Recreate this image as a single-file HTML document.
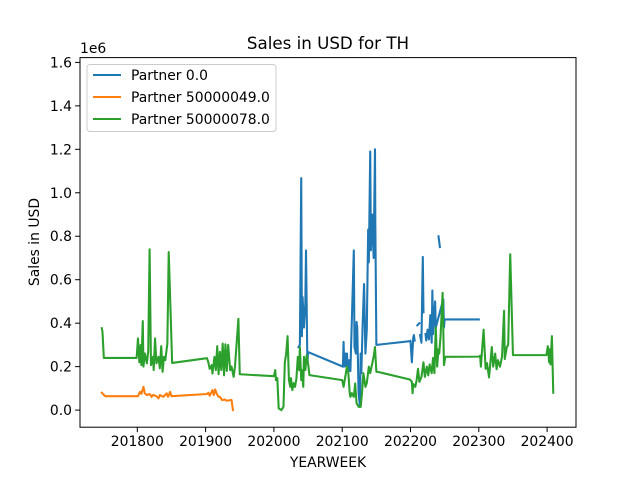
<!DOCTYPE html>
<html><head><meta charset="utf-8"><style>
body{margin:0;background:#fff}
svg{display:block;font-family:"DejaVu Sans","Liberation Sans",sans-serif}
</style></head><body>
<svg id="chart" width="640" height="480" xmlns="http://www.w3.org/2000/svg">
<rect width="640" height="480" fill="#fff"/>
<text x="328" y="49" font-size="16.7" text-anchor="middle">Sales in USD for TH</text>
<text x="80" y="53" font-size="13.9">1e6</text>
<text x="328" y="467" font-size="13.9" text-anchor="middle">YEARWEEK</text>
<text x="0" y="0" font-size="13.9" text-anchor="middle" transform="translate(39,242) rotate(-90)">Sales in USD</text>
<g id="plot"></g>
<rect x="80" y="57.6" width="496" height="369.6" fill="none" stroke="#000" stroke-width="1"/>
<g id="legend">
<rect x="87" y="64.5" width="189" height="67" rx="3" fill="#fff" fill-opacity="0.8" stroke="#ccc"/>
<line x1="93" y1="75" x2="121" y2="75" stroke="#1f77b4" stroke-width="2.08"/>
<text x="131" y="80" font-size="13.9">Partner 0.0</text>
<line x1="93" y1="97" x2="121" y2="97" stroke="#ff7f0e" stroke-width="2.08"/>
<text x="131" y="102" font-size="13.9">Partner 50000049.0</text>
<line x1="93" y1="119" x2="121" y2="119" stroke="#2ca02c" stroke-width="2.08"/>
<text x="131" y="124" font-size="13.9">Partner 50000078.0</text>
</g>
</svg>
<script>
const xTicks=[201800,201900,202000,202100,202200,202300,202400];
const yTicks=[0,0.2,0.4,0.6,0.8,1.0,1.2,1.4,1.6];
const blueWeeks=[202036,202038,202040,202041,202042,202044,202046,202047,202049,202050,202101,202102,202103,202105,202106,202107,202108,202110,202111,202112,202117,202118,202120,202121,202122,202124,202126,202127,202128,202130,202132,202134,202136,202138,202139,202141,202142,202144,202146,202148,202148.5,202150,202199,202200,202202,202204,202205,202206,null,202210,202213,null,202214,202216,202218,202219,null,202222,202223,202225,202227,202229,202231,202232,202233,202236,202237,202248,202249,202250,202300,null,202241,202243];
const blueValues=[0.29,0.3,1.067,0.34,0.52,0.38,0.49,0.735,0.216,0.267,0.2,0.314,0.2,0.26,0.2,0.26,0.18,0.23,0.18,0.18,0.735,0.29,0.26,0.406,0.38,0.077,0.015,0.26,0.17,0.4,0.58,0.26,0.37,0.83,0.68,1.19,0.735,0.9,0.7,1.2,0.86,0.3,0.317,0.319,0.22,0.334,0.345,0.32,null,0.39,0.4,null,0.345,0.31,0.705,0.45,null,0.35,0.32,0.37,0.325,0.437,0.31,0.55,0.35,0.5,0.38,0.51,0.38,0.417,0.417,null,0.8,0.75];
const orangeWeeks=[201748,201753,201801,201804,201806,201809,201811,201814,201818,201821,201823,201828,201831,201833,201838,201843,201845,201848,201850,201902,201904,201906,201910,201912,201914,201916,201919,201921,201924,201928,201931,201936,201938,201940];
const orangeValues=[0.08,0.064,0.064,0.084,0.075,0.107,0.077,0.069,0.074,0.061,0.07,0.064,0.054,0.069,0.061,0.077,0.061,0.084,0.064,0.074,0.08,0.066,0.092,0.069,0.095,0.077,0.061,0.061,0.046,0.049,0.043,0.046,0.046,0];
const greenWeeks=[201748,201749,201751,201799,201801,201803,201805,201806,201808,201809,201811,201814,201816,201818,201820,201823,201824,201826,201828,201831,201833,201835,201837,201839,201841,201844,201846,201851,201902,201904,201906,201909,201910,201913,201915,201917,201919,201921,201923,201925,201927,201929,201931,201933,201936,201938,201941,201943,201948,201950,202000,202002,202003,202005,202007,202011,202014,202016,202018,202020,202022,202024,202025,202027,202029,202031,202033,202035,202037,202038,202040,202041,202043,202044,202046,202048,202050,202052,202100,202102,202107,202109,202111,202112,202114,202117,202119,202121,202124,202127,202129,202131,202134,202136,202139,202141,202143,202146,202148,202150,202152,202199,202202,202203,202204,202207,202209,202211,202213,202216,202219,202221,202224,202226,202228,202231,202233,202235,202237,202239,202241,202242,202244,202247,202248,202249,202251,202300,202302,202303,202307,202310,202312,202315,202319,202321,202324,202326,202328,202331,202334,202337,202338,202341,202343,202346,202350,202399,202401,202403,202404,202405,202407,202409];
const greenValues=[0.377,0.36,0.24,0.24,0.33,0.22,0.3,0.207,0.41,0.2,0.261,0.215,0.272,0.74,0.207,0.245,0.184,0.33,0.215,0.245,0.192,0.294,0.176,0.245,0.23,0.306,0.727,0.217,0.239,0.22,0.19,0.207,0.168,0.245,0.184,0.294,0.165,0.268,0.184,0.306,0.16,0.303,0.18,0.3,0.184,0.2,0.153,0.2,0.42,0.165,0.156,0.184,0.138,0.147,0.008,0,0.015,0.22,0.26,0.34,0.138,0.107,0.147,0.092,0.124,0.107,0.147,0.245,0.184,0.29,0.138,0.184,0.107,0.245,0.184,0.253,0.215,0.161,0.138,0.107,0.2,0.17,0.078,0.061,0.078,0.061,0.123,0.032,0.015,0.015,0.078,0.17,0.107,0.124,0.2,0.17,0.2,0.245,0.29,0.176,0.176,0.141,0.13,0.078,0.12,0.107,0.138,0.19,0.13,0.153,0.22,0.153,0.2,0.16,0.21,0.17,0.24,0.17,0.38,0.2,0.28,0.26,0.34,0.54,0.37,0.207,0.245,0.246,0.25,0.2,0.37,0.19,0.216,0.15,0.29,0.2,0.26,0.188,0.23,0.2,0.246,0.457,0.235,0.29,0.3,0.717,0.253,0.253,0.294,0.22,0.28,0.21,0.34,0.08];

const NS="http://www.w3.org/2000/svg";
const L=80,R=576,T=57.6,B=427.2;
const xMin=201716.1,xMax=202442.3,yMin=-0.0787,yMax=1.622;
function xs(v){return L+(v-xMin)/(xMax-xMin)*(R-L);}
function ys(v){return B-(v-yMin)/(yMax-yMin)*(B-T);}
const plot=document.getElementById('plot');
const svg=document.getElementById('chart');
xTicks.forEach(t=>{
  const x=xs(t);
  const ln=document.createElementNS(NS,'line');
  ln.setAttribute('x1',x);ln.setAttribute('x2',x);ln.setAttribute('y1',B);ln.setAttribute('y2',B+4.9);
  ln.setAttribute('stroke','#000');
  
  
  svg.appendChild(ln);
  const tx=document.createElementNS(NS,'text');
  tx.setAttribute('x',x);tx.setAttribute('y',B+19);tx.setAttribute('font-size','13.9');tx.setAttribute('text-anchor','middle');
  tx.textContent=t;
  
  
  svg.appendChild(tx);
});
yTicks.forEach(t=>{
  const y=ys(t);
  const ln=document.createElementNS(NS,'line');
  ln.setAttribute('x1',L-4.9);ln.setAttribute('x2',L);ln.setAttribute('y1',y);ln.setAttribute('y2',y);
  ln.setAttribute('stroke','#000');
  
  
  svg.appendChild(ln);
  const tx=document.createElementNS(NS,'text');
  tx.setAttribute('x',L-8);tx.setAttribute('y',y+5);tx.setAttribute('font-size','13.9');tx.setAttribute('text-anchor','end');
  tx.textContent=t.toFixed(1);
  
  
  svg.appendChild(tx);
});
function drawSeries(wk,vals,color,name){
  let d='',pen=false;
  for(let i=0;i<wk.length;i++){
    if(wk[i]===null||vals[i]===null){pen=false;continue;}
    d+=(pen?'L':'M')+xs(wk[i]).toFixed(2)+','+ys(vals[i]).toFixed(2);
    pen=true;
  }
  const p=document.createElementNS(NS,'path');
  p.setAttribute('d',d);p.setAttribute('fill','none');p.setAttribute('stroke',color);
  p.setAttribute('stroke-width','2.08');p.setAttribute('stroke-linejoin','round');p.setAttribute('stroke-linecap','square');
  
  
  plot.appendChild(p);
}
drawSeries(blueWeeks,blueValues,'#1f77b4','line-partner-0');
drawSeries(orangeWeeks,orangeValues,'#ff7f0e','line-partner-50000049');
drawSeries(greenWeeks,greenValues,'#2ca02c','line-partner-50000078');
</script>
</body></html>
